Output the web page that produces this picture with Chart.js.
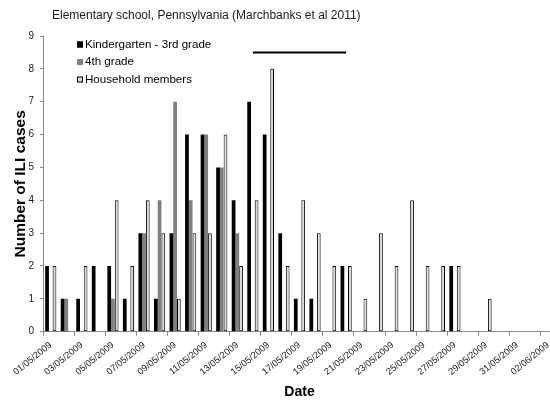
<!DOCTYPE html>
<html>
<head>
<meta charset="utf-8">
<script src="https://cdn.jsdelivr.net/npm/chart.js@4/dist/chart.umd.min.js"></script>
<style>
  body { margin: 0; background: #fff; }
  #wrap { width: 550px; height: 405px; overflow: hidden; }
</style>
</head>
<body>
<div id="wrap"><canvas id="myChart" width="560" height="405"></canvas></div>
<script>
// ILI cases by date of onset, one slot per day
const dates = [
  '01/05/2009', '02/05/2009', '03/05/2009', '04/05/2009', '05/05/2009', '06/05/2009',
  '07/05/2009', '08/05/2009', '09/05/2009', '10/05/2009', '11/05/2009', '12/05/2009',
  '13/05/2009', '14/05/2009', '15/05/2009', '16/05/2009', '17/05/2009', '18/05/2009',
  '19/05/2009', '20/05/2009', '21/05/2009', '22/05/2009', '23/05/2009', '24/05/2009',
  '25/05/2009', '26/05/2009', '27/05/2009', '28/05/2009', '29/05/2009', '30/05/2009',
  '31/05/2009', '01/06/2009', '02/06/2009'
];
const kinderCases    = [2, 1, 1, 2, 2, 1, 3, 1, 3, 6, 6, 5, 4, 7, 6, 3, 1, 1, 0, 2, 0, 0, 0, 0, 0, 0, 2, 0, 0, 0, 0, 0, 0];
const grade4Cases    = [0, 1, 0, 0, 1, 0, 3, 4, 7, 4, 6, 5, 3, 0, 0, 0, 0, 0, 0, 0, 0, 0, 0, 0, 0, 0, 0, 0, 0, 0, 0, 0, 0];
const householdCases = [2, 0, 2, 0, 4, 2, 4, 3, 1, 3, 3, 6, 2, 4, 8, 2, 4, 3, 2, 2, 1, 3, 2, 4, 2, 2, 2, 0, 1, 0, 0, 0, 0];
const yTicks = [0, 1, 2, 3, 4, 5, 6, 7, 8, 9];
// horizontal bar marking a period (start date, end date, height)
const periodStart = '14/05/2009';
const periodEnd = '20/05/2009';
const periodLevel = 8.5;

const FONT = '"Liberation Sans", Arial, sans-serif';
const chartTitle = 'Elementary school, Pennsylvania (Marchbanks et al 2011)';

// title + legend drawn inside the plot, top left
const cornerLegend = {
  id: 'cornerLegend',
  afterDraw(chart) {
    const ctx = chart.ctx;
    ctx.save();
    ctx.font = '12px ' + FONT;
    ctx.fillStyle = '#1a1a1a';
    ctx.textBaseline = 'middle';
    ctx.textAlign = 'left';
    ctx.fillText(chartTitle, 52, 15.5);

    ctx.font = '11.6px ' + FONT;
    const items = chart.data.datasets.filter(d => d.type !== 'line');
    items.forEach((ds, i) => {
      const y = 44.5 + i * 17.5;
      ctx.fillStyle = ds.backgroundColor;
      ctx.fillRect(77, y - 3, 6, 6);
      ctx.strokeStyle = ds.borderColor;
      ctx.lineWidth = 1;
      ctx.strokeRect(77.5, y - 2.5, 5, 5);
      ctx.fillStyle = '#000';
      ctx.fillText(ds.label, 85, y);
    });
    ctx.restore();
  }
};

const ctx = document.getElementById('myChart');
new Chart(ctx, {
  type: 'bar',
  data: {
    labels: dates,
    datasets: [
      {
        label: 'Kindergarten - 3rd grade',
        data: kinderCases,
        backgroundColor: '#000000',
        borderColor: '#000000',
        borderWidth: 0
      },
      {
        label: '4th grade',
        data: grade4Cases,
        backgroundColor: '#808080',
        borderColor: '#808080',
        borderWidth: 0
      },
      {
        label: 'Household members',
        data: householdCases,
        backgroundColor: '#dadada',
        borderColor: '#000000',
        borderWidth: 1,
        borderSkipped: false
      },
      {
        type: 'line',
        label: 'period',
        data: [{x: periodStart, y: periodLevel}, {x: periodEnd, y: periodLevel}],
        borderColor: '#000000',
        borderWidth: 2,
        pointRadius: 0,
        fill: false
      }
    ]
  },
  options: {
    responsive: false,
    animation: false,
    layout: { padding: { top: 36, right: 4, bottom: 0, left: 0 } },
    datasets: {
      bar: { barPercentage: 1.0, categoryPercentage: 0.72 }
    },
    plugins: {
      legend: { display: false },
      tooltip: { enabled: false }
    },
    scales: {
      x: {
        offset: true,
        grid: {
          offset: true,
          drawOnChartArea: false,
          tickLength: 4,
          color: ctx => (ctx.index % 2 === 0 ? '#888888' : 'rgba(0,0,0,0)')
        },
        border: { color: '#888888', width: 1 },
        ticks: {
          autoSkip: false,
          minRotation: 39,
          maxRotation: 39,
          padding: 4,
          color: '#1a1a1a',
          font: { family: FONT, size: 9.3 },
          callback: function(val, index) {
            return index % 2 === 0 ? this.getLabelForValue(val) : '';
          }
        },
        title: {
          display: true,
          text: 'Date',
          color: '#000',
          font: { family: FONT, size: 14, weight: 'bold' },
          padding: { top: 0, bottom: 4 }
        },
        afterFit: s => { s.height = 73.3; }
      },
      y: {
        min: 0,
        max: 9,
        grid: {
          drawOnChartArea: false,
          tickLength: 3,
          color: '#888888'
        },
        border: { color: '#888888', width: 1 },
        afterBuildTicks: s => { s.ticks = yTicks.map(v => ({ value: v })); },
        ticks: {
          padding: 6,
          color: '#1a1a1a',
          font: { family: FONT, size: 10 }
        },
        title: {
          display: true,
          text: 'Number of ILI cases',
          color: '#000',
          font: { family: FONT, size: 15.5, weight: 'bold' },
          padding: { top: 11, bottom: 0 }
        },
        afterFit: s => { s.width = 43; }
      }
    }
  },
  plugins: [cornerLegend]
});
</script>
</body>
</html>
